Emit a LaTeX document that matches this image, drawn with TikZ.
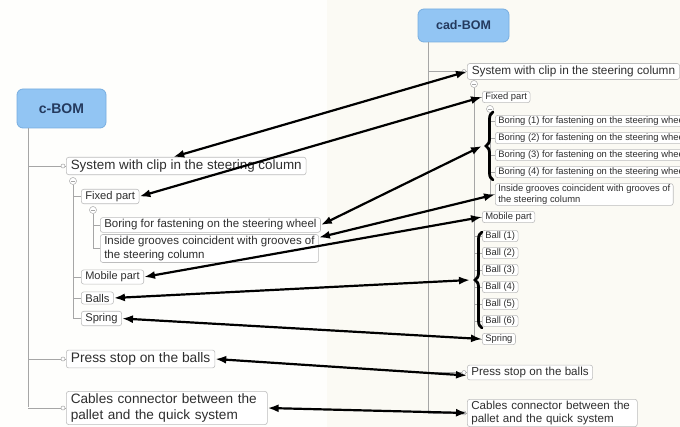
\documentclass[tikz,border=0pt]{standalone}
\usepackage{fontspec}
\setmainfont{Liberation Sans}
\usetikzlibrary{arrows.meta,decorations.pathreplacing,calc}
\definecolor{bg}{HTML}{FBFAF4}
\definecolor{panel}{HTML}{FEFEFC}
\definecolor{boxgray}{HTML}{BDBDBD}
\definecolor{linegray}{HTML}{A6A6A6}
\definecolor{rootfill}{HTML}{92C5F3}
\definecolor{rootdraw}{HTML}{78AEE0}
\definecolor{roottext}{HTML}{243A5E}
\definecolor{txt}{HTML}{2E2E2E}
\tikzset{
  rootbox/.style={draw=rootdraw, fill=rootfill, rounded corners=6pt, line width=0.8pt, text=roottext, inner sep=0pt},
  box/.style={draw=boxgray, rounded corners=2.5pt, fill=white, anchor=west, align=left, text=txt, line width=0.6pt},
  bigbox/.style={box, font=\fontsize{13.4}{15}\selectfont, inner xsep=4.5pt, inner ysep=2.5pt},
  midbox/.style={box, font=\fontsize{11.2}{13}\selectfont, inner xsep=4pt, inner ysep=2pt},
  rmidbox/.style={box, font=\fontsize{11.6}{12.5}\selectfont, inner xsep=4pt, inner ysep=2pt},
  smallbox/.style={box, font=\fontsize{9.4}{10.5}\selectfont, inner xsep=3pt, inner ysep=1.3pt},
  tree/.style={draw=linegray, line width=0.6pt},
  knob/.style={circle, draw=linegray, fill=white, minimum size=4pt, inner sep=0pt, line width=0.5pt},
  collapse/.style={circle, draw=linegray, fill=white, minimum size=7pt, inner sep=0pt, line width=0.5pt,
    path picture={\draw[linegray, line width=0.6pt] ([xshift=-2pt]path picture bounding box.center) -- ([xshift=2pt]path picture bounding box.center);}},
  bracebar/.style={decorate, decoration={brace, amplitude=7pt}, line width=2.8pt, black, line cap=round},
  link/.style={line width=2.2pt, black, {Latex[length=11pt,width=8pt]}-{Latex[length=11pt,width=8pt]}}
}
\begin{document}
\begin{tikzpicture}[x=1pt,y=-1pt]
\clip (0,0) rectangle (680,427);
\fill[bg] (0,0) rectangle (680,427);
\fill[panel] (0,0) rectangle (327,427);

% ---------------- left tree (c-BOM) ----------------
\node[rootbox, minimum width=89pt, minimum height=39pt, font=\bfseries\fontsize{14}{16}\selectfont] (lroot) at (61.5,108.5) {c-BOM};

\node[bigbox] (lsys) at (66,166) {System with clip in the steering column};
\node[midbox] (lfix) at (81,196.5) {Fixed part};
\node[midbox, font=\fontsize{11.5}{13.2}\selectfont] (lbor) at (100,225) {Boring for fastening on the steering wheel};
\node[midbox, font=\fontsize{11.5}{13.2}\selectfont] (lins) at (100,248.5) {Inside grooves coincident with grooves of\\the steering column};
\node[midbox, font=\fontsize{11}{13}\selectfont] (lmob) at (81,277) {Mobile part};
\node[midbox] (lbal) at (81,298) {Balls};
\node[midbox] (lspr) at (81,318.5) {Spring};
\node[bigbox, font=\fontsize{13.8}{15}\selectfont] (lpre) at (66,359) {Press stop on the balls};
\node[bigbox, font=\fontsize{13.6}{15.5}\selectfont, text width=192pt] (lcab) at (66,408) {Cables connector between the\\pallet and the quick system};

\coordinate (lt) at (28,407);
\draw[tree] (lroot.south -| lt) -- (lt);
\foreach \n in {lsys,lpre,lcab}{
  \draw[tree] (lt |- \n.west) -- (\n.west);
  \node[knob] at ([xshift=-3pt]\n.west) {};
}
\node[collapse] (lc1) at (73,181) {};
\draw[tree] (lc1.south) -- (lc1 |- lspr.west);
\foreach \n in {lfix,lmob,lbal,lspr}{ \draw[tree] (lc1 |- \n.west) -- (\n.west); }
\node[collapse] (lc2) at (93,210) {};
\draw[tree] (lc2.south) -- (lc2 |- lins.west);
\foreach \n in {lbor,lins}{ \draw[tree] (lc2 |- \n.west) -- (\n.west); }

% ---------------- right tree (cad-BOM) ----------------
\node[rootbox, minimum width=91pt, minimum height=33pt, font=\bfseries\fontsize{12.5}{14}\selectfont] (rroot) at (463.5,25.5) {cad-BOM};

\node[bigbox, font=\fontsize{11.8}{13}\selectfont, inner ysep=2.5pt] (rsys) at (467,71.5) {System with clip in the steering column};
\node[smallbox] (rfix) at (482,97) {Fixed part};
\node[smallbox] (rb1) at (495,121) {Boring (1) for fastening on the steering wheel};
\node[smallbox] (rb2) at (495,138) {Boring (2) for fastening on the steering wheel};
\node[smallbox] (rb3) at (495,155) {Boring (3) for fastening on the steering wheel};
\node[smallbox] (rb4) at (495,172) {Boring (4) for fastening on the steering wheel};
\node[smallbox] (rins) at (495,194.5) {Inside grooves coincident with grooves of\\the steering column};
\node[smallbox] (rmob) at (482,217) {Mobile part};
\node[smallbox] (rba1) at (482,236) {Ball (1)};
\node[smallbox] (rba2) at (482,253) {Ball (2)};
\node[smallbox] (rba3) at (482,270) {Ball (3)};
\node[smallbox] (rba4) at (482,287) {Ball (4)};
\node[smallbox] (rba5) at (482,304) {Ball (5)};
\node[smallbox] (rba6) at (482,321) {Ball (6)};
\node[smallbox] (rspr) at (482,339) {Spring};
\node[rmidbox] (rpre) at (467,372.5) {Press stop on the balls};
\node[rmidbox, text width=162pt] (rcab) at (467,413) {Cables connector between the\\pallet and the quick system};

\coordinate (rt) at (428,413);
\draw[tree] (rroot.south -| rt) -- (rt);
\foreach \n in {rsys,rpre,rcab}{
  \draw[tree] (rt |- \n.west) -- (\n.west);
  \node[knob] at ([xshift=-3pt]\n.west) {};
}
\node[collapse] (rc1) at (474,84) {};
\draw[tree] (rc1.south) -- (rc1 |- rspr.west);
\foreach \n in {rfix,rmob,rba1,rba2,rba3,rba4,rba5,rba6,rspr}{ \draw[tree] (rc1 |- \n.west) -- (\n.west); }
\node[collapse] (rc2) at (490,109) {};
\draw[tree] (rc2.south) -- (rc2 |- rins.west);
\foreach \n in {rb1,rb2,rb3,rb4,rins}{ \draw[tree] (rc2 |- \n.west) -- (\n.west); }

% ---------------- braces ----------------
\coordinate (br1b) at (493,180);
\coordinate (br1t) at (493,112);
\coordinate (br2b) at (482,328);
\coordinate (br2t) at (482,232);
\draw[bracebar] (br1b) -- (br1t);
\draw[bracebar] (br2b) -- (br2t);
\coordinate (b1tip) at (482,146);
\coordinate (b2tip) at (470,280);

% ---------------- links ----------------
\draw[link] ([xshift=-13pt]lsys.north) -- (rsys.west);
\draw[link] (lfix.east) -- (rfix.west);
\draw[link] (lbor.east) -- (b1tip);
\draw[link] ([yshift=11pt]lins.east) -- (rins.west);
\draw[link] (lmob.east) -- (rmob.west);
\draw[link] (lbal.east) -- (b2tip);
\draw[link] (lspr.east) -- (rspr.west);
\draw[link] (lpre.east) -- ([yshift=-3pt]rpre.west);
\draw[link] (lcab.east) -- (rcab.west);
\end{tikzpicture}
\end{document}
